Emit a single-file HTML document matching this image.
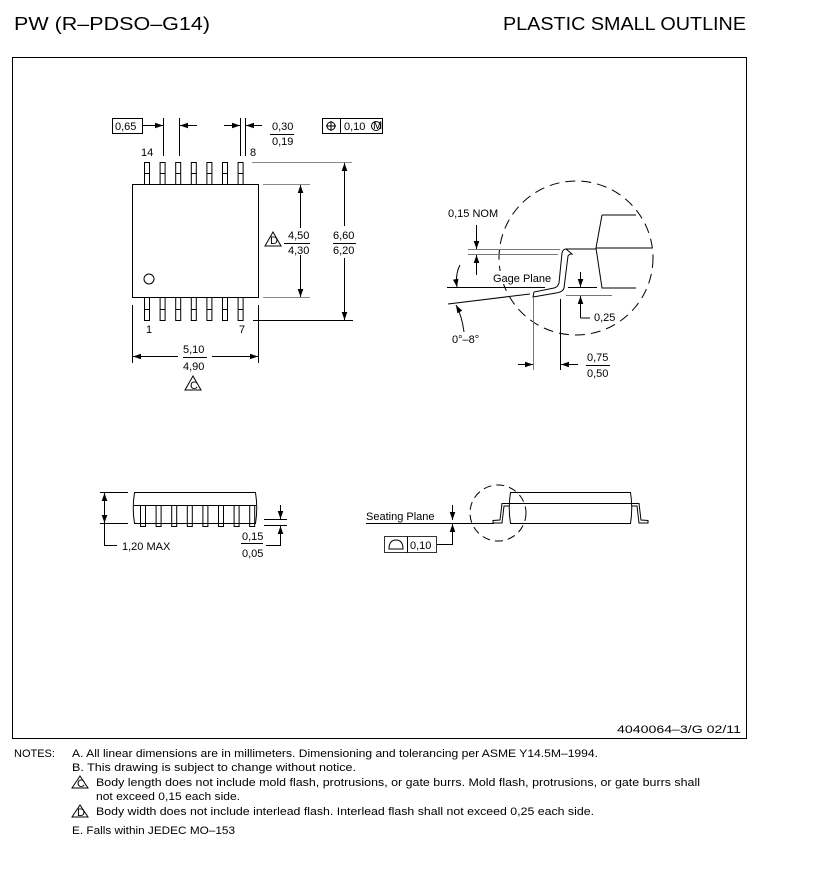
<!DOCTYPE html>
<html><head><style>
html,body{margin:0;padding:0;background:#fff;}
svg{display:block;font-family:"Liberation Sans",sans-serif;}
text{fill:#000;font-size:11px;}
</style></head><body>
<svg width="816" height="883" viewBox="0 0 816 883" xmlns="http://www.w3.org/2000/svg">
<defs>
<marker id="a" viewBox="0 0 10 10" refX="10" refY="5" markerWidth="8" markerHeight="8" orient="auto-start-reverse" markerUnits="userSpaceOnUse"><path d="M0,1.5 L10,5 L0,8.5z" fill="#000"/></marker>
</defs>
<text x="14" y="30" style="font-size:18px" textLength="196" lengthAdjust="spacingAndGlyphs">PW (R–PDSO–G14)</text>
<text x="503" y="30" style="font-size:18px" textLength="243" lengthAdjust="spacingAndGlyphs">PLASTIC SMALL OUTLINE</text>
<rect x="12.5" y="57.5" width="734" height="681" fill="none" stroke="#000"/>

<g stroke="#000" fill="none" stroke-width="1">
<rect x="132.5" y="184.5" width="126" height="113"/>
<circle cx="149" cy="279" r="5"/>
<g id="lt">
<rect x="144.5" y="162.5" width="5" height="22"/><line x1="144.5" y1="173.5" x2="149.5" y2="173.5"/>
</g>
<use href="#lt" x="15.6"/><use href="#lt" x="31.2"/><use href="#lt" x="46.8"/><use href="#lt" x="62.4"/><use href="#lt" x="78"/><use href="#lt" x="93.6"/>
<g id="lb">
<rect x="144.5" y="297.5" width="5" height="23"/><line x1="144.5" y1="309.5" x2="149.5" y2="309.5"/>
</g>
<use href="#lb" x="15.6"/><use href="#lb" x="31.2"/><use href="#lb" x="46.8"/><use href="#lb" x="62.4"/><use href="#lb" x="78"/><use href="#lb" x="93.6"/>
<line x1="163.5" y1="118" x2="163.5" y2="156"/><line x1="179.5" y1="118" x2="179.5" y2="156"/>
<line x1="142" y1="125.5" x2="163" y2="125.5" marker-end="url(#a)"/>
<line x1="197" y1="125.5" x2="180" y2="125.5" marker-end="url(#a)"/>
<line x1="240.5" y1="118" x2="240.5" y2="156"/><line x1="245.5" y1="118" x2="245.5" y2="156"/>
<line x1="224" y1="125.5" x2="240" y2="125.5" marker-end="url(#a)"/>
<line x1="262" y1="125.5" x2="246" y2="125.5" marker-end="url(#a)"/>
<rect x="112.5" y="118.5" width="30" height="15"/>
<line x1="270" y1="134.5" x2="294" y2="134.5"/>
<rect x="322.5" y="118.5" width="60" height="15"/><line x1="340.5" y1="118.5" x2="340.5" y2="133.5"/>
<circle cx="331" cy="126" r="4"/><line x1="326" y1="126" x2="336" y2="126"/><line x1="331" y1="121" x2="331" y2="131"/>
<circle cx="376" cy="126" r="4.5"/>
<line x1="263" y1="184.5" x2="310" y2="184.5" stroke="#888"/><line x1="263" y1="297.5" x2="310" y2="297.5" stroke="#888"/>
<line x1="300.5" y1="228" x2="300.5" y2="185" marker-end="url(#a)"/><line x1="300.5" y1="255" x2="300.5" y2="297" marker-end="url(#a)"/>
<line x1="252" y1="162.5" x2="352" y2="162.5" stroke="#888"/><line x1="253" y1="320.5" x2="353" y2="320.5"/>
<line x1="344.5" y1="226" x2="344.5" y2="163" marker-end="url(#a)"/><line x1="344.5" y1="258" x2="344.5" y2="320" marker-end="url(#a)"/>
<line x1="284" y1="243.5" x2="310" y2="243.5"/><line x1="333" y1="243.5" x2="356" y2="243.5"/>
<path d="M265,246 L273,232 L281,246z"/>
<path d="M185,390 L193,376 L201,390z"/>
<line x1="132.5" y1="305" x2="132.5" y2="363"/><line x1="258.5" y1="305" x2="258.5" y2="363"/>
<line x1="178" y1="356.5" x2="133" y2="356.5" marker-end="url(#a)"/><line x1="212" y1="356.5" x2="258" y2="356.5" marker-end="url(#a)"/>
<line x1="183" y1="357.5" x2="207" y2="357.5"/>
</g>
<text x="115" y="130" font-size="10.5">0,65</text>
<text x="272" y="130">0,30</text><text x="272" y="145">0,19</text>
<text x="344" y="130">0,10</text><text x="373" y="129" font-size="7">M</text>
<text x="141" y="156">14</text><text x="250" y="156">8</text>
<text x="146" y="333">1</text><text x="239" y="333">7</text>
<text x="270" y="244" font-size="8">D</text>
<text x="288" y="239">4,50</text><text x="288" y="254">4,30</text>
<text x="333" y="239">6,60</text><text x="333" y="254">6,20</text>
<text x="183" y="353">5,10</text><text x="183" y="370">4,90</text>
<text x="190" y="389" font-size="8">C</text>

<g stroke="#000" fill="none">
<circle cx="576" cy="258" r="77" stroke-dasharray="10,6"/>
<path d="M602,215 L636,215 M602,215 L596,248 L602,288 L636,288" />
<path d="M596,248 L652,248 M566,249 L596,249"/>
<path d="M566,249 Q563,249 562,253 L559,283 Q558,287 554,288 L534,292 L533,297 L556,293 Q563,292 564,288 L568,256 Q569,254 572,254 Z" fill="#fff"/>
<line x1="468" y1="249.5" x2="560" y2="249.5" stroke="#777"/>
<line x1="468" y1="254.5" x2="558" y2="254.5" stroke="#777"/>
<line x1="447" y1="287.5" x2="545" y2="287.5"/>
<line x1="448" y1="304" x2="530" y2="294"/>
<line x1="568" y1="287.5" x2="597" y2="287.5"/><line x1="566" y1="295.5" x2="612" y2="295.5" stroke="#777"/>
<line x1="476.5" y1="225" x2="476.5" y2="249" marker-end="url(#a)"/>
<line x1="476.5" y1="275" x2="476.5" y2="255" marker-end="url(#a)"/>
<line x1="580.5" y1="272" x2="580.5" y2="287" marker-end="url(#a)"/>
<line x1="580.5" y1="318" x2="580.5" y2="296" marker-end="url(#a)"/>
<line x1="580.5" y1="318" x2="590" y2="318"/>
<path d="M460,265 Q455,275 457,287" marker-end="url(#a)"/>
<path d="M464,332 Q462,316 456,305" marker-end="url(#a)"/>
<line x1="533.5" y1="297" x2="533.5" y2="370" stroke="#777"/>
<line x1="560.5" y1="299" x2="560.5" y2="370"/>
<line x1="518" y1="364.5" x2="533" y2="364.5" marker-end="url(#a)"/>
<line x1="578" y1="364.5" x2="561" y2="364.5" marker-end="url(#a)"/>
<line x1="586" y1="365.5" x2="610" y2="365.5"/>
</g>
<rect x="491" y="271" width="58" height="13" fill="#fff"/>
<text x="493" y="282">Gage Plane</text>
<text x="448" y="217">0,15 NOM</text>
<text x="594" y="321">0,25</text>
<text x="452" y="343" font-size="10">0°–8°</text>
<text x="587" y="361">0,75</text><text x="587" y="377">0,50</text>

<g stroke="#000" fill="none">
<path d="M134.5,492.5 L255.5,492.5 Q258,508 255.5,523.5 L134.5,523.5 Q132,508 134.5,492.5Z"/>
<line x1="134" y1="505.5" x2="256" y2="505.5"/>
<g id="sl"><rect x="140.5" y="505.5" width="5" height="21"/></g>
<use href="#sl" x="15.6"/><use href="#sl" x="31.2"/><use href="#sl" x="46.8"/><use href="#sl" x="62.4"/><use href="#sl" x="78"/><use href="#sl" x="93.6"/><use href="#sl" x="109.2"/>
<line x1="100" y1="492.5" x2="128" y2="492.5"/><line x1="100" y1="523.5" x2="128" y2="523.5"/>
<line x1="104.5" y1="508" x2="104.5" y2="493" marker-end="url(#a)"/><line x1="104.5" y1="508" x2="104.5" y2="523" marker-end="url(#a)"/>
<path d="M104.5,524 L104.5,545.5 L117,545.5"/>
<line x1="264" y1="519.5" x2="287" y2="519.5"/><line x1="264" y1="525.5" x2="287" y2="525.5"/>
<line x1="280.5" y1="505" x2="280.5" y2="519" marker-end="url(#a)"/>
<line x1="280.5" y1="545" x2="280.5" y2="526" marker-end="url(#a)"/>
<path d="M280.5,545 L280.5,545.5 L266,545.5"/>
<line x1="241" y1="543.5" x2="263" y2="543.5"/>
</g>
<text x="122" y="550">1,20 MAX</text>
<text x="242" y="540">0,15</text><text x="242" y="557">0,05</text>

<g stroke="#000" fill="none">
<circle cx="498" cy="513" r="28" stroke-dasharray="8,5"/>
<path d="M510.5,492.5 L630.5,492.5 Q633,508 630.5,523.5 L510.5,523.5 Q508,508 510.5,492.5Z"/>
<line x1="510" y1="503.5" x2="632" y2="503.5"/>
<path d="M509,503.5 L502,503.5 L500,520 L493,520.5 L493,523 L502,523 L504,506 L509,506"/>
<path d="M632,503.5 L639,503.5 L641,520 L648,520.5 L648,523 L639,523 L637,506 L632,506"/>
<line x1="366" y1="523.5" x2="494" y2="523.5"/>
<line x1="452.5" y1="505" x2="452.5" y2="520" marker-end="url(#a)"/>
<line x1="452.5" y1="542" x2="452.5" y2="524" marker-end="url(#a)"/>
<path d="M452.5,542 L452.5,544.5 L436,544.5"/>
<rect x="384.5" y="536.5" width="52" height="16" stroke="#333"/>
<line x1="407.5" y1="536.5" x2="407.5" y2="552.5"/>
<path d="M389,549 Q389,540 396,540 Q403,540 403,549 Z"/>
</g>
<text x="366" y="520">Seating Plane</text>
<text x="410" y="549">0,10</text>

<text x="617" y="733" textLength="124" lengthAdjust="spacingAndGlyphs">4040064–3/G   02/11</text>
<text x="14" y="757" font-size="10.5">NOTES:</text>
<text x="72" y="757" font-size="10.5" textLength="526" lengthAdjust="spacingAndGlyphs">A.  All linear dimensions are in millimeters.  Dimensioning and tolerancing per ASME Y14.5M–1994.</text>
<text x="72" y="771" font-size="10.5" textLength="284" lengthAdjust="spacingAndGlyphs">B.  This drawing is subject to change without notice.</text>
<text x="96" y="786" font-size="10.5" textLength="604" lengthAdjust="spacingAndGlyphs">Body length does not include mold flash, protrusions, or gate burrs.  Mold flash, protrusions, or gate burrs shall</text>
<text x="96" y="800" font-size="10.5" textLength="144" lengthAdjust="spacingAndGlyphs">not exceed 0,15 each side.</text>
<text x="96" y="815" font-size="10.5" textLength="498" lengthAdjust="spacingAndGlyphs">Body width does not include interlead flash.  Interlead flash shall not exceed 0,25 each side.</text>
<text x="72" y="834" font-size="10.5" textLength="163" lengthAdjust="spacingAndGlyphs">E.  Falls within JEDEC MO–153</text>
<g stroke="#000" fill="none"><path d="M72,788 L80,776 L88,788z"/><path d="M72,817 L80,805 L88,817z"/></g>
<text x="77" y="787" font-size="8">C</text><text x="77" y="816" font-size="8">D</text>
</svg>
</body></html>
